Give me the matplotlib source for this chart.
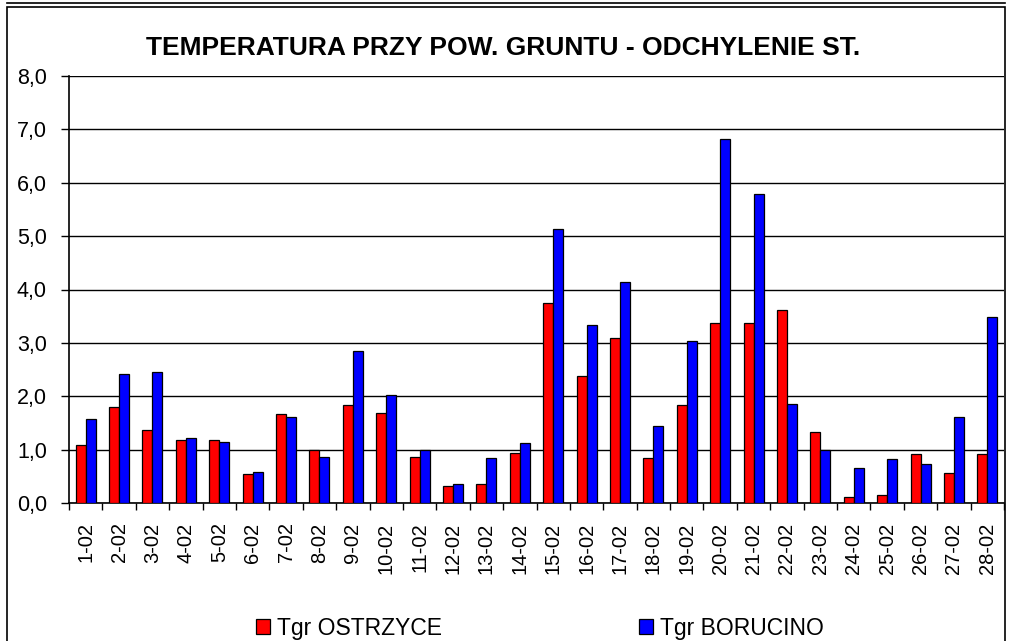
import numpy as np
import matplotlib
matplotlib.use("Agg")
import matplotlib.pyplot as plt
from matplotlib.patches import Rectangle
from matplotlib.lines import Line2D
from matplotlib.ticker import FuncFormatter, MultipleLocator

plt.rcParams['font.family'] = ['Liberation Sans', 'DejaVu Sans']

# dane
dni = [f"{d}-02" for d in range(1, 29)]
ostrzyce = [1.09, 1.80, 1.36, 1.18, 1.18, 0.54, 1.67, 0.99, 1.83, 1.69,
            0.86, 0.31, 0.36, 0.94, 3.74, 2.38, 3.09, 0.84, 1.83, 3.38,
            3.38, 3.62, 1.33, 0.12, 0.15, 0.91, 0.57, 0.91]
borucino = [1.57, 2.41, 2.46, 1.21, 1.15, 0.59, 1.62, 0.86, 2.85, 2.03,
            0.99, 0.36, 0.84, 1.12, 5.13, 3.33, 4.14, 1.44, 3.04, 6.82,
            5.79, 1.86, 0.99, 0.65, 0.83, 0.73, 1.62, 3.48]

W, H = 1009, 641
fig = plt.figure(figsize=(W / 100, H / 100), dpi=100)
ax = fig.add_axes([69 / W, (H - 503) / H, (1004 - 69) / W, (503 - 76) / H])

x = np.arange(len(dni))
bw = 0.3
ax.bar(x - bw / 2, ostrzyce, bw, color='#ff0000', edgecolor='black', linewidth=0.9,
       label='Tgr OSTRZYCE', zorder=3)
ax.bar(x + bw / 2, borucino, bw, color='#0000ff', edgecolor='black', linewidth=0.9,
       label='Tgr BORUCINO', zorder=3)

ax.set_xlim(-0.5, len(dni) - 0.5)
ax.set_ylim(0, 8)
ax.yaxis.set_major_locator(MultipleLocator(1))
ax.yaxis.set_major_formatter(FuncFormatter(lambda v, p: f"{v:.1f}".replace('.', ',')))
ax.grid(axis='y', color='black', linewidth=1.0, zorder=0)

ax.set_xticks(x)
ax.set_xticklabels(dni, rotation=90, fontsize=14.5)
ax.tick_params(axis='x', which='major', length=0, pad=14)
ax.set_xticks(np.arange(-0.5, len(dni)), minor=True)
ax.tick_params(axis='x', which='minor', length=5, width=1, direction='out')
ax.tick_params(axis='y', length=6, width=1, labelsize=15.5, pad=10)

for s in ['top', 'right']:
    ax.spines[s].set_visible(False)
for s in ['left', 'bottom']:
    ax.spines[s].set_linewidth(1.2)

fig.text(503 / W, (H - 48) / H, 'TEMPERATURA PRZY POW. GRUNTU - ODCHYLENIE ST.',
         fontsize=19, fontweight='bold', ha='center', va='center')

# ramki
fig.patches.append(Rectangle((7 / W, -0.01), (1005 - 7) / W, (H - 7) / H + 0.01,
                             transform=fig.transFigure, fill=False,
                             edgecolor='black', linewidth=1.2))
fig.lines.append(Line2D([7 / W, 1005 / W], [(H - 3) / H, (H - 3) / H],
                        transform=fig.transFigure, color='black', linewidth=1.2))

fig.legend(loc='center', bbox_to_anchor=(0.535, (H - 628) / H), ncol=2,
           frameon=False, fontsize=16.5, handlelength=0.6, handleheight=0.6,
           handletextpad=0.3, columnspacing=8.6)

fig.savefig('out.png', dpi=100)
